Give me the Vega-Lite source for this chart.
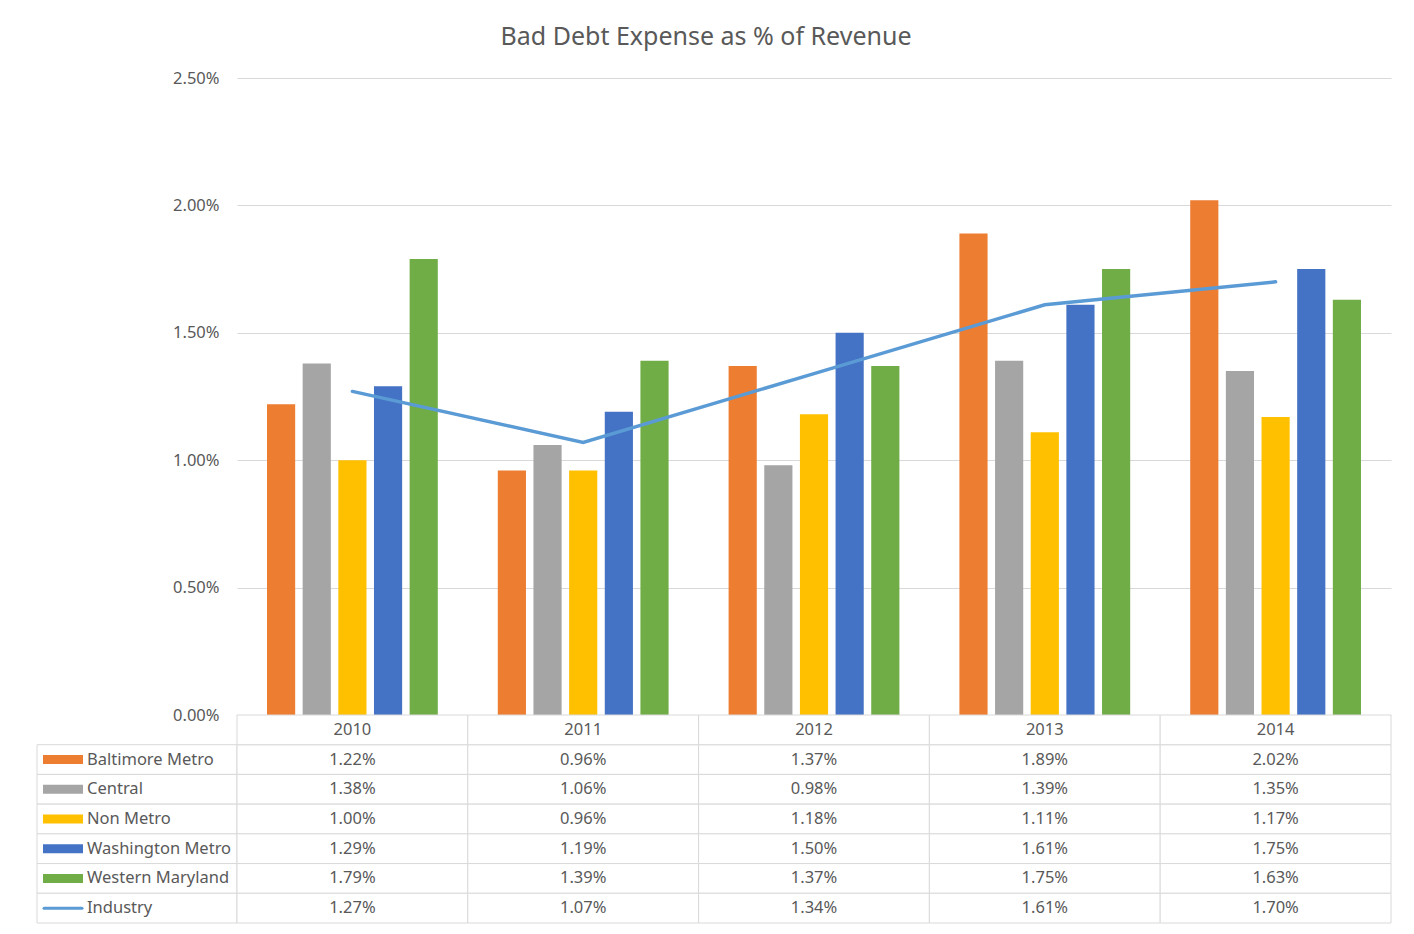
{
  "$schema": "https://vega.github.io/schema/vega-lite/v6.json",
  "background": "white",
  "padding": {"left": 36, "top": 25, "right": 24, "bottom": 10},
  "title": {"text": "Bad Debt Expense as % of Revenue", "font": "Noto Sans", "fontSize": 25, "fontWeight": "normal", "color": "#595959", "anchor": "middle", "offset": 20, "dx": -8},
  "config": {"view": {"stroke": null}, "font": "Noto Sans"},
  "datasets": {
    "main": [
      {"year": "2010", "series": "Baltimore Metro", "value": 0.0122},
      {"year": "2011", "series": "Baltimore Metro", "value": 0.0096},
      {"year": "2012", "series": "Baltimore Metro", "value": 0.0137},
      {"year": "2013", "series": "Baltimore Metro", "value": 0.0189},
      {"year": "2014", "series": "Baltimore Metro", "value": 0.0202},
      {"year": "2010", "series": "Central", "value": 0.0138},
      {"year": "2011", "series": "Central", "value": 0.0106},
      {"year": "2012", "series": "Central", "value": 0.0098},
      {"year": "2013", "series": "Central", "value": 0.0139},
      {"year": "2014", "series": "Central", "value": 0.0135},
      {"year": "2010", "series": "Non Metro", "value": 0.0100},
      {"year": "2011", "series": "Non Metro", "value": 0.0096},
      {"year": "2012", "series": "Non Metro", "value": 0.0118},
      {"year": "2013", "series": "Non Metro", "value": 0.0111},
      {"year": "2014", "series": "Non Metro", "value": 0.0117},
      {"year": "2010", "series": "Washington Metro", "value": 0.0129},
      {"year": "2011", "series": "Washington Metro", "value": 0.0119},
      {"year": "2012", "series": "Washington Metro", "value": 0.0150},
      {"year": "2013", "series": "Washington Metro", "value": 0.0161},
      {"year": "2014", "series": "Washington Metro", "value": 0.0175},
      {"year": "2010", "series": "Western Maryland", "value": 0.0179},
      {"year": "2011", "series": "Western Maryland", "value": 0.0139},
      {"year": "2012", "series": "Western Maryland", "value": 0.0137},
      {"year": "2013", "series": "Western Maryland", "value": 0.0175},
      {"year": "2014", "series": "Western Maryland", "value": 0.0163},
      {"year": "2010", "series": "Industry", "value": 0.0127},
      {"year": "2011", "series": "Industry", "value": 0.0107},
      {"year": "2012", "series": "Industry", "value": 0.0134},
      {"year": "2013", "series": "Industry", "value": 0.0161},
      {"year": "2014", "series": "Industry", "value": 0.0170}
    ]
  },
  "columns": 2,
  "spacing": 0,
  "bounds": "flush",
  "resolve": {"scale": {"x": "independent", "y": "independent"}},
  "concat": [
    {
      "width": 200, "height": 637,
      "data": {"values": []},
      "mark": {"type": "text"},
      "encoding": {}
    },
    {
      "width": 1154, "height": 637,
      "data": {"name": "main"},
      "layer": [
        {
          "transform": [{"filter": "datum.series !== 'Industry'"}],
          "mark": {"type": "bar"},
          "encoding": {
            "x": {"field": "year", "type": "ordinal", "axis": null, "scale": {"paddingInner": 0.26, "paddingOuter": 0.13}},
            "xOffset": {"field": "series", "type": "nominal", "sort": ["Baltimore Metro", "Central", "Non Metro", "Washington Metro", "Western Maryland"], "scale": {"paddingInner": 0.21, "paddingOuter": 0}},
            "y": {"field": "value", "type": "quantitative", "scale": {"domain": [0, 0.025], "nice": false},
              "axis": {"title": null, "values": [0, 0.005, 0.01, 0.015, 0.02, 0.025], "format": ".2%", "domain": false, "ticks": false, "labelPadding": 18, "labelFontSize": 16.5, "labelColor": "#595959", "gridColor": "#d9d9d9", "gridWidth": 1}},
            "color": {"field": "series", "type": "nominal", "legend": null,
              "scale": {"domain": ["Baltimore Metro", "Central", "Non Metro", "Washington Metro", "Western Maryland", "Industry"], "range": ["#ED7D31", "#A5A5A5", "#FFC000", "#4472C4", "#70AD47", "#5B9BD5"]}}
          }
        },
        {
          "transform": [{"filter": "datum.series === 'Industry'"}],
          "mark": {"type": "line", "color": "#5B9BD5", "strokeWidth": 3.5, "strokeCap": "round"},
          "encoding": {
            "x": {"field": "year", "type": "ordinal"},
            "y": {"field": "value", "type": "quantitative"}
          }
        }
      ]
    },
    {
      "width": 200, "height": 208,
      "data": {"name": "main"},
      "transform": [{"filter": "datum.year === '2010'"}],
      "encoding": {
        "y": {"field": "series", "type": "nominal", "axis": null,
          "scale": {"domain": ["header", "Baltimore Metro", "Central", "Non Metro", "Washington Metro", "Western Maryland", "Industry"], "paddingInner": 0, "paddingOuter": 0}}
      },
      "layer": [
        {"mark": {"type": "rect", "fill": "white", "stroke": "#d9d9d9", "strokeWidth": 1}},
        {
          "transform": [{"filter": "datum.series !== 'Industry'"}],
          "mark": {"type": "bar", "height": 9},
          "encoding": {"x": {"value": 6}, "x2": {"value": 46}, "color": {"field": "series", "type": "nominal", "legend": null}}
        },
        {
          "transform": [{"filter": "datum.series === 'Industry'"}],
          "mark": {"type": "rule", "color": "#5B9BD5", "strokeWidth": 3, "strokeCap": "round"},
          "encoding": {"x": {"value": 7}, "x2": {"value": 45}}
        },
        {
          "mark": {"type": "text", "align": "left", "baseline": "middle", "fontSize": 16.5, "color": "#595959"},
          "encoding": {"x": {"value": 50}, "text": {"field": "series"}}
        }
      ]
    },
    {
      "width": 1154, "height": 208,
      "data": {"name": "main"},
      "encoding": {
        "x": {"field": "year", "type": "ordinal", "axis": null, "scale": {"paddingInner": 0, "paddingOuter": 0}}
      },
      "layer": [
        {
          "mark": {"type": "rect", "fill": "white", "stroke": "#d9d9d9", "strokeWidth": 1},
          "encoding": {"y": {"field": "series", "type": "nominal", "axis": null,
            "scale": {"domain": ["header", "Baltimore Metro", "Central", "Non Metro", "Washington Metro", "Western Maryland", "Industry"], "paddingInner": 0, "paddingOuter": 0}}}
        },
        {
          "mark": {"type": "text", "baseline": "middle", "fontSize": 16.5, "color": "#595959"},
          "encoding": {"y": {"field": "series", "type": "nominal"}, "text": {"field": "value", "format": ".2%"}}
        },
        {
          "transform": [{"filter": "datum.series === 'Industry'"}],
          "mark": {"type": "rect", "fill": "white", "stroke": "#d9d9d9", "strokeWidth": 1},
          "encoding": {"y": {"datum": "header", "type": "nominal"}}
        },
        {
          "transform": [{"filter": "datum.series === 'Industry'"}],
          "mark": {"type": "text", "baseline": "middle", "fontSize": 16.5, "color": "#595959"},
          "encoding": {"y": {"datum": "header", "type": "nominal"}, "text": {"field": "year"}}
        }
      ]
    }
  ]
}
